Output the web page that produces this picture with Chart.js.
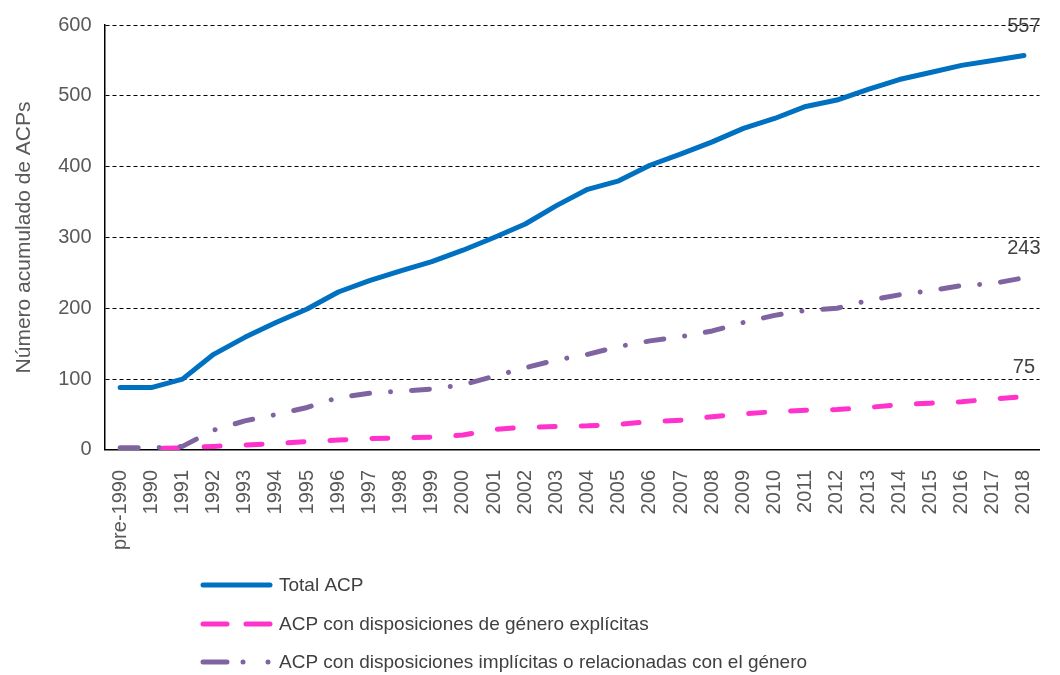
<!DOCTYPE html>
<html lang="es">
<head>
<meta charset="utf-8">
<title>Número acumulado de ACPs</title>
<script src="https://cdn.jsdelivr.net/npm/chart.js@4.4.1/dist/chart.umd.min.js"></script>
<style>
  html, body { margin: 0; padding: 0; background: #fff; }
  #chart { display: block; }
</style>
</head>
<body>
<canvas id="chart" width="1060" height="675"></canvas>
<script>
// Datos
const years = ["pre-1990", "1990", "1991", "1992", "1993", "1994", "1995", "1996", "1997", "1998",
  "1999", "2000", "2001", "2002", "2003", "2004", "2005", "2006", "2007", "2008",
  "2009", "2010", "2011", "2012", "2013", "2014", "2015", "2016", "2017", "2018"];

const totalAcp = [88, 88, 100, 135, 159, 180, 199, 223, 239, 253,
  266, 282, 300, 319, 345, 368, 380, 402, 418, 435,
  454, 468, 485, 494, 509, 523, 533, 543, 550, 557];

const explicitAcp = [0, 2, 3, 5, 7, 9, 12, 14, 16, 17,
  18, 21, 29, 32, 33, 34, 36, 40, 42, 47,
  51, 54, 56, 57, 60, 64, 66, 68, 72, 75];

const implicitAcp = [3, 3, 5, 28, 41, 50, 60, 74, 80, 83,
  86, 92, 104, 116, 127, 135, 146, 154, 160, 168,
  180, 190, 197, 200, 211, 219, 225, 232, 235, 243];

const yTicks = [0, 100, 200, 300, 400, 500, 600];

const FONT = "'Liberation Sans', Arial, sans-serif";

// Valor final encima del último punto de cada serie
const endLabels = {
  id: "endLabels",
  afterDatasetsDraw(chart) {
    const ctx = chart.ctx;
    ctx.save();
    ctx.font = "20px " + FONT;
    ctx.fillStyle = "#404040";
    ctx.textAlign = "center";
    ctx.textBaseline = "middle";
    chart.data.datasets.forEach((ds, i) => {
      const meta = chart.getDatasetMeta(i);
      const last = meta.data[meta.data.length - 1];
      const value = ds.data[ds.data.length - 1];
      ctx.fillText(String(value), last.x, last.y - 29);
    });
    ctx.restore();
  },
};

// Leyenda apilada debajo del eje
const stackedLegend = {
  id: "stackedLegend",
  afterDraw(chart) {
    const ctx = chart.ctx;
    const rows = [585, 624, 662];
    ctx.save();
    chart.data.datasets.forEach((ds, i) => {
      const y = rows[i];
      ctx.beginPath();
      ctx.lineWidth = ds.borderWidth;
      ctx.strokeStyle = ds.borderColor;
      ctx.lineCap = "round";
      ctx.setLineDash(ds.legendDash || []);
      ctx.moveTo(203, y);
      ctx.lineTo(270, y);
      ctx.stroke();
      ctx.setLineDash([]);
      ctx.font = "19px " + FONT;
      ctx.fillStyle = "#404040";
      ctx.textAlign = "left";
      ctx.textBaseline = "middle";
      ctx.fillText(ds.label, 279, y + 1);
    });
    ctx.restore();
  },
};

new Chart(document.getElementById("chart"), {
  type: "line",
  data: {
    labels: years,
    datasets: [
      {
        label: "Total ACP",
        data: totalAcp,
        borderColor: "#0070C0",
        borderWidth: 5,
        borderCapStyle: "round",
        borderJoinStyle: "round",
        pointRadius: 0,
        order: 2,
      },
      {
        label: "ACP con disposiciones de género explícitas",
        data: explicitAcp,
        borderColor: "#FF33CC",
        borderWidth: 5,
        borderDash: [16, 26],
        borderCapStyle: "round",
        borderJoinStyle: "round",
        pointRadius: 0,
        legendDash: [24, 19],
        order: 1,
      },
      {
        label: "ACP con disposiciones implícitas o relacionadas con el género",
        data: implicitAcp,
        borderColor: "#8064A2",
        borderWidth: 5,
        borderDash: [18, 21, 0.01, 21],
        borderCapStyle: "round",
        borderJoinStyle: "round",
        pointRadius: 0,
        legendDash: [24, 16, 0.01, 25, 0.01, 100],
        order: 0,
      },
    ],
  },
  options: {
    responsive: false,
    animation: false,
    layout: {
      padding: { top: 0, right: 5, bottom: 113, left: 12 },
    },
    plugins: {
      legend: { display: false },
      tooltip: { enabled: false },
    },
    scales: {
      x: {
        offset: true,
        grid: { display: false },
        border: { display: true, color: "#000", width: 1.5 },
        ticks: {
          autoSkip: false,
          minRotation: 90,
          maxRotation: 90,
          padding: 12,
          color: "#595959",
          font: { family: FONT, size: 20 },
        },
      },
      y: {
        min: 0,
        max: 600,
        afterBuildTicks: (axis) => {
          axis.ticks = yTicks.map((v) => ({ value: v }));
        },
        grid: {
          color: "#000",
          lineWidth: 1,
          drawTicks: false,
        },
        border: { display: true, color: "#000", width: 1.5, dash: [4, 3] },
        ticks: {
          padding: 13,
          color: "#595959",
          font: { family: FONT, size: 20 },
        },
        title: {
          display: true,
          text: "Número acumulado de ACPs",
          color: "#595959",
          font: { family: FONT, size: 21 },
          padding: { top: 0, bottom: 8 },
        },
      },
    },
  },
  plugins: [endLabels, stackedLegend],
});
</script>
</body>
</html>
